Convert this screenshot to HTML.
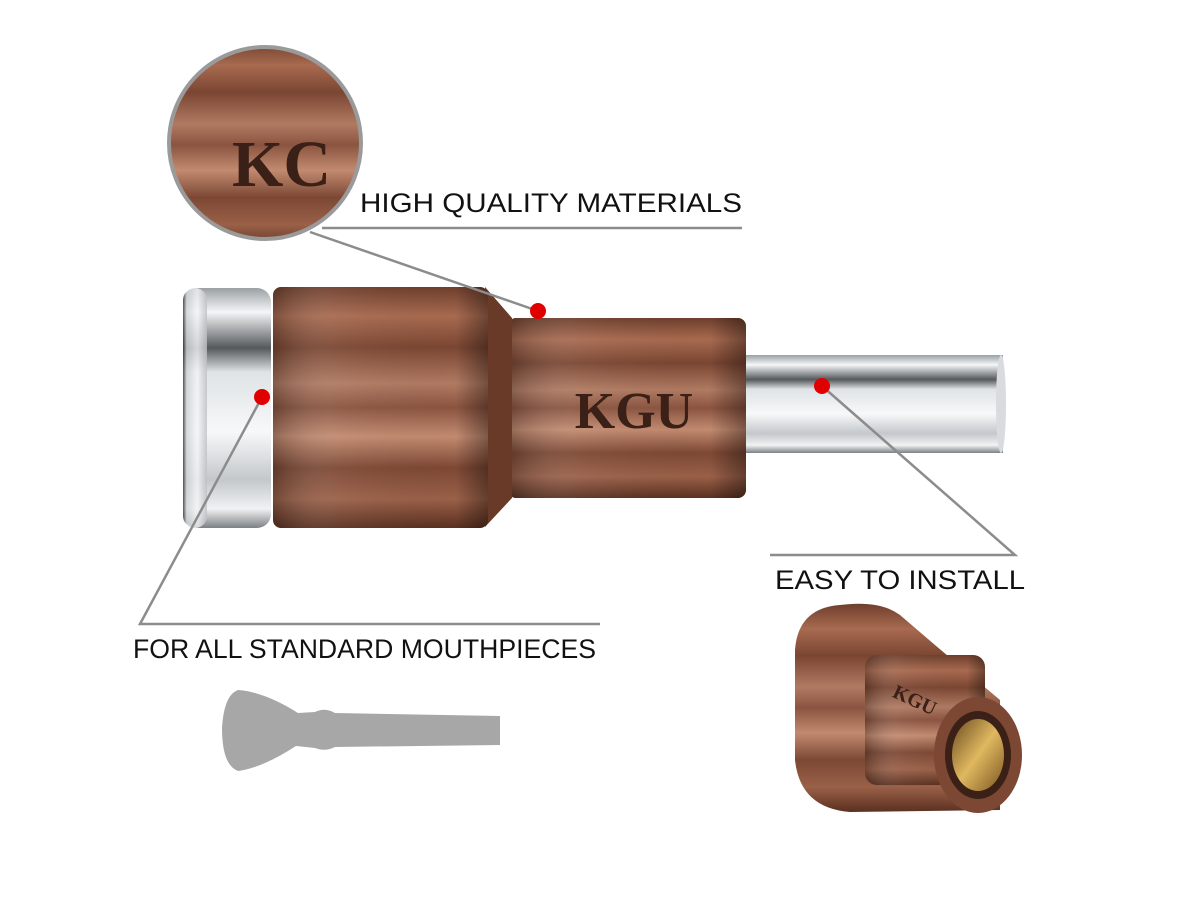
<!DOCTYPE html>
<html><head><meta charset="utf-8"><style>
html,body{margin:0;padding:0;background:#fff;width:1200px;height:900px;overflow:hidden}
</style></head><body>
<svg width="1200" height="900" viewBox="0 0 1200 900" xmlns="http://www.w3.org/2000/svg">
<defs>
<linearGradient id="cu" x1="0" y1="0" x2="0" y2="1">
<stop offset="0" stop-color="#6e3f2c"/><stop offset="0.12" stop-color="#a86a50"/>
<stop offset="0.25" stop-color="#7a4632"/><stop offset="0.4" stop-color="#b07a62"/>
<stop offset="0.5" stop-color="#8a5440"/><stop offset="0.62" stop-color="#c28a70"/>
<stop offset="0.75" stop-color="#7c4834"/><stop offset="0.88" stop-color="#9a6048"/>
<stop offset="1" stop-color="#5a3020"/></linearGradient>
<linearGradient id="cuh" x1="0" y1="0" x2="1" y2="0">
<stop offset="0" stop-color="#000" stop-opacity="0.25"/><stop offset="0.3" stop-color="#fff" stop-opacity="0.05"/>
<stop offset="0.85" stop-color="#000" stop-opacity="0"/><stop offset="1" stop-color="#000" stop-opacity="0.35"/></linearGradient>
<linearGradient id="ag" x1="0" y1="0" x2="0" y2="1">
<stop offset="0" stop-color="#9aa0a4"/><stop offset="0.1" stop-color="#f4f6f7"/>
<stop offset="0.25" stop-color="#55595c"/><stop offset="0.35" stop-color="#dfe3e5"/>
<stop offset="0.6" stop-color="#f7f8f9"/><stop offset="0.8" stop-color="#c4c8cb"/>
<stop offset="0.92" stop-color="#f0f2f3"/><stop offset="1" stop-color="#7c8084"/></linearGradient>
<linearGradient id="ag2" x1="0" y1="0" x2="1" y2="0">
<stop offset="0" stop-color="#2a2c2e"/><stop offset="0.15" stop-color="#cfd3d6"/>
<stop offset="0.6" stop-color="#f4f5f6"/><stop offset="1" stop-color="#bcc0c3"/></linearGradient>
<clipPath id="cc"><circle cx="265" cy="143" r="96"/></clipPath>
<linearGradient id="br" x1="0" y1="0" x2="1" y2="1"><stop offset="0" stop-color="#6a4a20"/><stop offset="0.5" stop-color="#e0b860"/><stop offset="1" stop-color="#7a5520"/></linearGradient>
</defs>

<!-- magnifier -->
<g clip-path="url(#cc)"><rect x="160" y="40" width="220" height="210" fill="url(#cu)"/>
<text x="232" y="186" style="font-family:'Liberation Serif',serif;font-weight:bold;font-size:66px" fill="#3a2016">KC</text></g>
<circle cx="265" cy="143" r="96" fill="none" stroke="#9a9a9a" stroke-width="4"/>

<!-- main body -->
<rect x="745" y="355" width="258" height="98" fill="url(#ag)"/>
<ellipse cx="1001" cy="404" rx="5" ry="49" fill="#d8dcde"/>
<rect x="508" y="318" width="238" height="180" rx="8" fill="url(#cu)"/>
<rect x="508" y="318" width="238" height="180" rx="8" fill="url(#cuh)"/>
<polygon points="485,287 512,318 512,498 485,527" fill="#6a3a28"/>
<rect x="273" y="287" width="215" height="241" rx="8" fill="url(#cu)"/>
<rect x="273" y="287" width="215" height="241" rx="8" fill="url(#cuh)"/>
<rect x="183" y="288" width="88" height="240" rx="14" fill="url(#ag)"/>
<rect x="183" y="288" width="24" height="240" rx="12" fill="url(#ag2)" opacity="0.8"/>
<text x="634" y="428" text-anchor="middle" style="font-family:'Liberation Serif',serif;font-weight:bold;font-size:52px" fill="#3a2016">KGU</text>

<!-- connector lines -->
<g stroke="#8c8c8c" stroke-width="2.5" fill="none">
<polyline points="310,232 538,311"/>
<line x1="322" y1="228" x2="742" y2="228"/>
<polyline points="262,397 140,624 600,624"/>
<polyline points="822,386 1015,555 770,555"/>
</g>

<!-- red dots -->
<g fill="#e00000"><circle cx="262" cy="397" r="8"/><circle cx="538" cy="311" r="8"/><circle cx="822" cy="386" r="8"/></g>

<!-- labels -->
<g style="font-family:'Liberation Sans',sans-serif;font-size:27px" fill="#111">
<text x="360" y="212" textLength="382" lengthAdjust="spacingAndGlyphs">HIGH QUALITY MATERIALS</text>
<text x="775" y="589" textLength="250" lengthAdjust="spacingAndGlyphs">EASY TO INSTALL</text>
<text x="133" y="658" textLength="463" lengthAdjust="spacingAndGlyphs">FOR ALL STANDARD MOUTHPIECES</text>
</g>

<!-- grey mouthpiece -->
<path d="M238,690 Q224,695 222,728 Q222,765 238,771 Q262,768 296,746 L315,748 Q325,752 335,747 L500,745 L500,716 L335,713 Q325,707 315,712 L298,713 Q265,692 238,690 Z" fill="#a7a7a7"/>

<!-- small product -->
<path d="M840,605 Q880,600 900,615 L935,645 L1000,700 L1000,810 L850,812 Q800,808 795,760 L795,650 Q798,608 840,605 Z" fill="url(#cu)"/>
<rect x="865" y="655" width="120" height="130" rx="12" fill="url(#cu)"/>
<rect x="865" y="655" width="120" height="130" rx="12" fill="url(#cuh)"/>
<ellipse cx="978" cy="755" rx="44" ry="58" fill="#7c4834"/>
<ellipse cx="978" cy="755" rx="33" ry="44" fill="#3a2016"/>
<ellipse cx="978" cy="755" rx="26" ry="36" fill="url(#br)"/>
<text x="912" y="706" text-anchor="middle" style="font-family:'Liberation Serif',serif;font-weight:bold;font-size:20px" fill="#3a2016" transform="rotate(25 912 706)">KGU</text>
</svg>
</body></html>
